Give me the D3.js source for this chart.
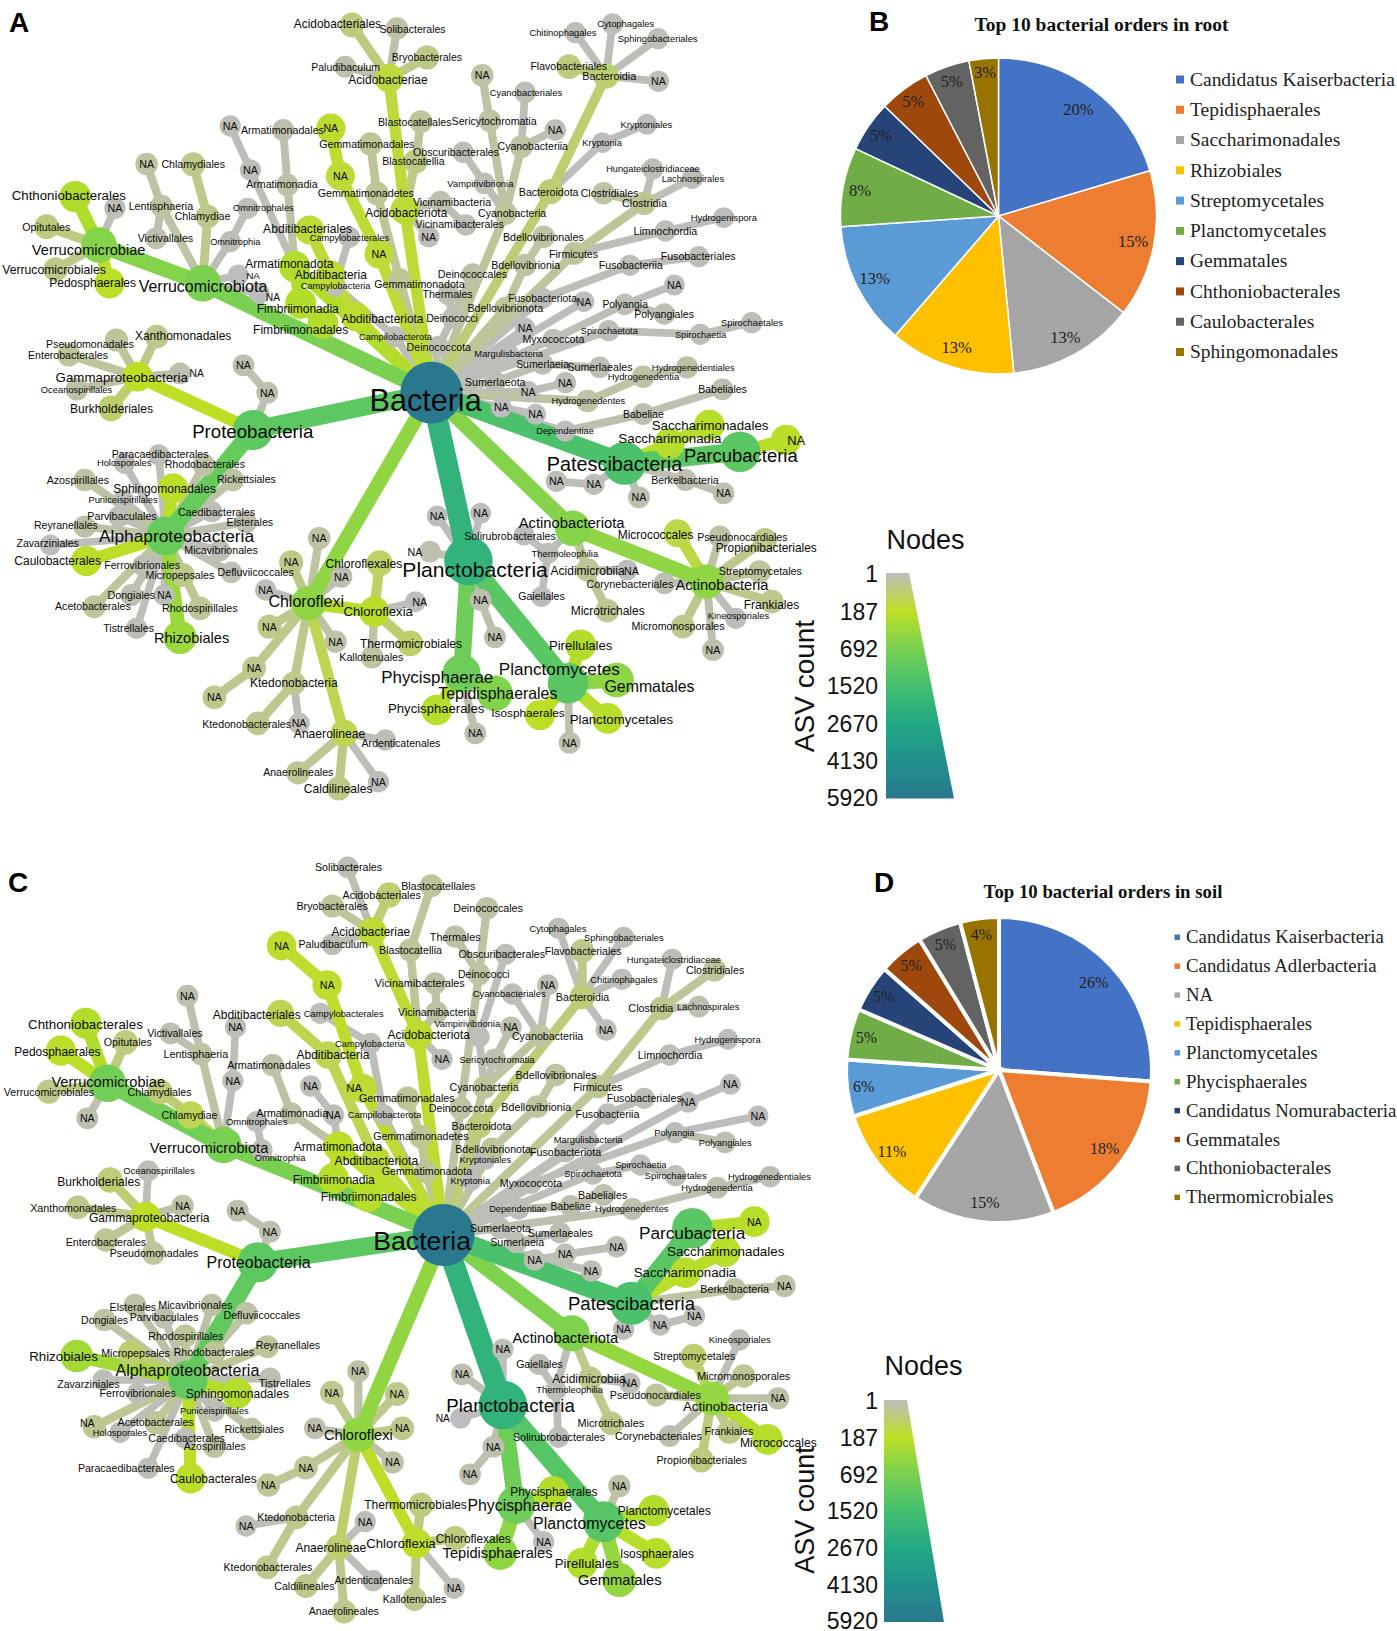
<!DOCTYPE html>
<html><head><meta charset="utf-8">
<script src="https://cdn.jsdelivr.net/npm/d3@7"></script>
<style>html,body{margin:0;padding:0;background:#fff}svg{display:block}</style>
</head><body><div id="chart"></div>
<script>
// ---------- values ----------
const legendTicks = [1,187,692,1520,2670,4130,5920];
const legendColors = ["#bdbdbd","#bddf26","#7ad151","#44bf70","#22a884","#21918c","#2a788e"];

const rootOrders = ["Candidatus Kaiserbacteria","Tepidisphaerales","Saccharimonadales","Rhizobiales","Streptomycetales","Planctomycetales","Gemmatales","Chthoniobacterales","Caulobacterales","Sphingomonadales"];
const rootShares = [20.4,15.1,13,12.9,12.6,8.1,5.2,5.2,4.6,3.0];
const soilOrders = ["Candidatus Kaiserbacteria","Candidatus Adlerbacteria","NA","Tepidisphaerales","Planctomycetales","Phycisphaerales","Candidatus Nomurabacteria","Gemmatales","Chthoniobacterales","Thermomicrobiales"];
const soilShares = [26.2,18,15,10.9,6,5.4,5,4.8,4.6,4.1];
const pieColors = ["#4472c4","#ed7d31","#a5a5a5","#ffc000","#5b9bd5","#70ad47","#264478","#9e480e","#636363","#997300"];

// taxonomy: [depth, taxon, ASV count]
const rootTaxa = [
[0,"Bacteria",5920],
[1,"Verrucomicrobiota",690],[2,"Verrucomicrobiae",600],[3,"Chthoniobacterales",260],[3,"NA",2],[3,"Opitutales",40],[3,"Verrucomicrobiales",30],[3,"Pedosphaerales",200],
[2,"Lentisphaeria",10],[3,"NA",10],[3,"Victivallales",5],[2,"Chlamydiae",25],[3,"Chlamydiales",30],[2,"Omnitrophia",2],[3,"Omnitrophales",2],[2,"NA",1],[2,"NA",1],
[1,"Armatimonadota",250],[2,"Armatimonadia",8],[3,"Armatimonadales",5],[2,"NA",2],[3,"NA",2],[2,"Fimbriimonadia",250],[3,"Fimbriimonadales",240],
[1,"Abditibacteriota",160],[2,"Abditibacteria",150],[3,"Abditibacteriales",150],
[1,"Gemmatimonadota",20],[2,"Gemmatimonadetes",20],[3,"Gemmatimonadales",20],
[1,"NA",150],[2,"NA",150],[3,"NA",170],
[1,"Acidobacteriota",150],[2,"Acidobacteriae",140],[3,"Acidobacteriales",40],[3,"Solibacterales",8],[3,"Bryobacterales",30],[3,"Paludibaculum",5],[2,"Blastocatellia",30],[3,"Blastocatellales",15],[2,"Vicinamibacteria",5],[3,"Vicinamibacterales",3],[2,"NA",2],
[1,"Cyanobacteria",15],[2,"Cyanobacteriia",12],[3,"Cyanobacteriales",3],[3,"NA",3],[2,"Sericytochromatia",10],[3,"NA",10],[2,"Vampirivibrionia",3],[3,"Obscuribacterales",3],
[1,"Bacteroidota",50],[2,"Bacteroidia",55],[3,"Flavobacteriales",40],[3,"Chitinophagales",2],[3,"Cytophagales",2],[3,"Sphingobacteriales",2],[3,"NA",2],[2,"Kryptonia",1],[3,"Kryptoniales",1],
[1,"Firmicutes",15],[2,"Clostridia",20],[3,"Clostridiales",10],[3,"Hungateiclostridiaceae",2],[3,"Lachnospirales",2],[2,"Limnochordia",2],[3,"Hydrogenispora",1],
[1,"Bdellovibrionota",15],[2,"Bdellovibrionia",12],[3,"Bdellovibrionales",10],
[1,"Deinococcota",5],[2,"Deinococci",3],[3,"Deinococcales",8],[3,"Thermales",5],
[1,"Campilobacterota",2],[2,"Campylobacteria",2],[3,"Campylobacterales",2],
[1,"Fusobacteriota",2],[2,"Fusobacteriia",2],[3,"Fusobacteriales",2],[1,"NA",1],
[1,"Myxococcota",2],[2,"Polyangia",3],[3,"Polyangiales",3],[3,"NA",1],[1,"NA",1],
[1,"Spirochaetota",2],[2,"Spirochaetia",2],[3,"Spirochaetales",2],[1,"Margulisbacteria",1],
[1,"Sumerlaeota",3],[2,"Sumerlaeia",3],[3,"Sumerlaeales",3],[1,"NA",2],[2,"NA",2],
[1,"Hydrogenedentes",10],[2,"Hydrogenedentia",10],[3,"Hydrogenedentiales",8],[1,"NA",1],[2,"NA",1],
[1,"Dependentiae",1],[2,"Babeliae",5],[3,"Babeliales",5],
[1,"Proteobacteria",1100],[2,"NA",5],[3,"NA",5],
[2,"Gammaproteobacteria",190],[3,"Xanthomonadales",25],[3,"Pseudomonadales",15],[3,"Enterobacterales",15],[3,"NA",5],[3,"Oceanospirillales",8],[3,"Burkholderiales",60],
[2,"Alphaproteobacteria",950],[3,"Paracaedibacterales",2],[3,"Holosporales",2],[3,"Rhodobacterales",8],[3,"Rickettsiales",10],[3,"Azospirillales",10],[3,"Sphingomonadales",200],[3,"Puniceispirillales",2],[3,"Parvibaculales",3],[3,"Caedibacterales",2],[3,"Elsterales",5],[3,"Reyranellales",8],[3,"Micavibrionales",3],[3,"Zavarziniales",1],[3,"Caulobacterales",200],[3,"Ferrovibrionales",3],[3,"Micropepsales",30],[3,"Defluviicoccales",3],[3,"Dongiales",5],[3,"NA",2],[3,"Acetobacterales",15],[3,"Rhodospirillales",20],[3,"Tistrellales",2],[3,"Rhizobiales",400],
[1,"Patescibacteria",1400],[2,"Saccharimonadia",230],[3,"Saccharimonadales",220],[2,"Parcubacteria",1150],[3,"NA",210],[2,"Berkelbacteria",5],[3,"NA",5],[2,"NA",2],[3,"NA",2],[2,"NA",5],
[1,"Actinobacteriota",600],[2,"Actinobacteria",500],[3,"Micrococcales",120],[3,"Pseudonocardiales",8],[3,"Propionibacteriales",30],[3,"Streptomycetales",15],[3,"Corynebacteriales",4],[3,"Frankiales",25],[3,"Kineosporiales",2],[3,"Micromonosporales",25],[3,"NA",5],
[2,"Thermoleophilia",2],[3,"Solirubrobacterales",1],[3,"Gaiellales",1],[2,"Acidimicrobiia",20],[3,"NA",1],[3,"Microtrichales",20],
[1,"Planctobacteria",2100],[2,"NA",1],[2,"NA",1],[2,"NA",5],[2,"NA",5],[3,"NA",5],
[2,"Phycisphaerae",850],[3,"Tepidisphaerales",620],[3,"Phycisphaerales",220],[3,"NA",5],
[2,"Planctomycetes",1150],[3,"Pirellulales",240],[3,"Gemmatales",500],[3,"Isosphaerales",190],[3,"Planctomycetales",220],[3,"NA",5],
[1,"Chloroflexi",500],[2,"NA",10],[2,"NA",30],[2,"NA",5],[2,"NA",2],[2,"NA",30],[2,"NA",8],[2,"NA",25],[3,"NA",25],
[2,"Ktedonobacteria",25],[3,"Ktedonobacterales",25],[3,"NA",2],
[2,"Anaerolineae",100],[3,"Ardenticatenales",2],[3,"Anaerolineales",20],[3,"Caldilineales",30],[3,"NA",2],
[2,"Chloroflexia",210],[3,"Chloroflexales",70],[3,"NA",1],[3,"Thermomicrobiales",60],[3,"Kallotenuales",10]
];
// network layout of the root tree: [nodeX,nodeY,labelLeft,labelRight,labelY]
const rootPlacement = [
[815,1178,698,910,1200],
[383,850,262,505,860],[187,735,60,275,748],[142,590,22,238,587],[217,625],[88,680,42,133],[105,808,4,200],[207,850,93,257,847],
[305,618,243,365],[277,492],[295,715,260,365],[392,650,330,435],[365,493,305,425],[435,725,397,492],[468,625,440,555,622],[450,825,465,491],[490,880,502,529,892],
[557,800,463,630,790],[543,555,465,600,553],[535,390,455,612],[473,510],[435,378],[568,910,485,640,925],[610,970,478,658,990],
[672,950,645,800,957],[625,825,557,693,823],[585,690,497,665,686],
[755,840,707,878,853],[712,580,600,782],[700,432,603,783],
[716,762],[643,528],[625,385],
[765,630,690,845,638],[735,235,658,808,238],[665,75,555,720,71],[750,85,717,842,88],[807,172,740,873],[652,200,588,718,201],[785,485,722,840],[795,365,714,853,366],[832,605,780,928,606],[880,675,785,952,674],[810,710],
[955,640,903,1032,641],[985,440,940,1073,438],[992,277,925,1062],[1049,390],[925,362,853,1014],[911,226],[915,550,845,970,551],[875,457,780,943],
[1040,575,980,1093,576],[1145,228,1100,1202,229],[1075,200,1002,1147],[1087,98,1000,1127],[1157,72,1128,1236],[1243,116,1167,1318],[1244,244],[1138,428,1100,1175],[1222,373,1172,1270],
[1085,760,1037,1130,761],[1217,610,1175,1260],[1140,580,1097,1206],[1233,507,1145,1322],[1308,535,1250,1368],[1257,693,1197,1317],[1367,653,1305,1430],
[955,925,883,1026],[992,795,928,1058],[1027,710,950,1103,711],
[828,1040,768,890],[855,955,805,903],[893,823,827,958],[847,883,798,893],
[747,1010,678,816],[633,857,568,700],[660,712,585,735],
[1025,895,960,1090],[1190,796,1131,1252],[1320,770,1248,1390],[1103,905],
[1045,1018,987,1104],[1180,913,1138,1224],[1255,942,1198,1311],[1274,855],[992,985],
[1150,992,1097,1205],[1323,1003,1275,1372],[1420,968,1362,1479],[960,1060,896,1026],
[935,1145,878,993],[1025,1092,975,1075],[1133,1102,1072,1195],[998,1175],[1068,1148],
[1110,1203,1042,1181],[1215,1130,1148,1283],[1298,1102,1231,1388],[947,1222],[1012,1243],
[1068,1293,1013,1122],[1215,1242,1177,1254],[1365,1168,1319,1411],
[478,1290,363,592,1294],[505,1178],[460,1096],
[260,1130,105,355,1132],[296,1010,255,437,1008],[220,1020,87,253,1034],[130,1065,53,204],[340,1120,358,385],[145,1168,77,212],[210,1225,132,289,1226],
[313,1608,187,480],[300,1365,211,394,1362],[235,1390,183,286,1388],[385,1395,311,463,1392],[440,1440,410,521,1438],[160,1440,88,206,1441],[327,1465,214,408,1466],[233,1500,167,298,1499],[225,1550,165,296,1549],[400,1535,336,482],[465,1567,428,516],[160,1580,64,185,1575],[415,1652,348,487,1651],[95,1635,31,149,1631],[163,1683,27,191],[270,1697,197,340],[345,1725,275,405],[437,1717,411,555,1716],[248,1785,203,293],[310,1785,297,324],[178,1820,104,247],[378,1825,306,449,1824],[258,1885,195,291,1884],[340,1912,291,433,1914],
[1180,1390,1033,1289,1393],[1265,1330,1168,1363,1315],[1340,1275,1231,1452],[1398,1355,1292,1507,1365],[1485,1320,1487,1521],[1295,1440,1230,1358,1441],[1367,1480],[1122,1453],[1051,1444],[1207,1492],
[1082,1585,980,1180,1567],[1335,1745,1276,1452,1753],[1280,1600,1167,1310,1603],[1360,1610,1317,1488,1612],[1445,1620,1352,1543,1644],[1435,1715,1358,1515,1714],[1255,1750,1108,1272,1753],[1458,1805,1405,1510,1815],[1390,1855,1337,1453,1848],[1290,1880,1193,1369,1878],[1347,1950],
[1035,1660,1004,1130,1661],[990,1605,877,1050,1608],[1023,1790,979,1067],[1110,1710,1040,1180,1713],[1185,1710,1179,1207,1713],[1147,1832,1078,1218],
[885,1683,760,1035,1708],[908,1540],[826,1548],[812,1655,770,798],[908,1800],[935,1912],
[872,2020,720,932,2032],[935,2080,828,1053],[825,2130,733,915,2126],[898,2200],
[1073,2050,942,1171,2006],[1097,1935,1037,1157,1936],[1165,2040,1142,1312,2058],[1020,2145,928,1067,2138],[1148,2155,1076,1272,2158],[1076,2228],
[583,1810,507,650,1805],[603,1615],[550,1687],[645,1730],[502,1770],[509,1880],[634,1925],[480,2005],[405,2092],
[555,2050,472,638,2048],[487,2170,382,550,2172],[565,2170],
[650,2200,555,690],[728,2220,683,832,2230],[563,2318,497,630],[640,2365,574,704],[715,2345],
[707,1835,649,780],[717,1690,615,760],[785,1805,779,807],[775,1930,680,873],[703,1972,641,762]
];

const soilTaxa = [
[0,"Bacteria",5920],
[1,"Verrucomicrobiota",690],[2,"Verrucomicrobiae",800],[3,"Chthoniobacterales",250],[3,"Pedosphaerales",200],[3,"Opitutales",40],[3,"Verrucomicrobiales",30],[3,"NA",5],
[2,"Chlamydiae",100],[3,"Chlamydiales",50],[2,"Lentisphaeria",10],[3,"NA",5],[3,"Victivallales",5],[2,"NA",2],[3,"NA",2],[2,"Omnitrophia",2],[3,"Omnitrophales",2],
[1,"Armatimonadota",200],[2,"Armatimonadia",8],[3,"Armatimonadales",8],[2,"NA",2],[3,"NA",2],[2,"Fimbriimonadia",220],[3,"Fimbriimonadales",220],
[1,"Abditibacteriota",150],[2,"Abditibacteria",100],[3,"Abditibacteriales",100],
[1,"Campilobacterota",2],[2,"Campylobacteria",2],[3,"Campylobacterales",2],
[1,"NA",150],[2,"NA",170],[3,"NA",170],
[1,"Gemmatimonadota",20],[2,"Gemmatimonadetes",20],[3,"Gemmatimonadales",20],
[1,"Acidobacteriota",160],[2,"Acidobacteriae",150],[3,"Acidobacteriales",50],[3,"Bryobacterales",15],[3,"Solibacterales",3],[3,"Paludibaculum",3],[2,"Blastocatellia",15],[3,"Blastocatellales",15],[2,"Vicinamibacteria",8],[3,"Vicinamibacterales",8],[2,"NA",2],
[1,"Deinococcota",10],[2,"Deinococci",10],[3,"Deinococcales",10],[3,"Thermales",8],
[1,"Cyanobacteria",15],[2,"Cyanobacteriia",12],[3,"Cyanobacteriales",2],[3,"NA",3],[2,"Vampirivibrionia",2],[3,"Obscuribacterales",2],[2,"Sericytochromatia",5],[3,"NA",5],
[1,"Bacteroidota",45],[2,"Bacteroidia",45],[3,"Flavobacteriales",25],[3,"Cytophagales",2],[3,"Sphingobacteriales",2],[3,"Chitinophagales",2],[3,"NA",2],[2,"Kryptonia",1],[3,"Kryptoniales",1],
[1,"Bdellovibrionota",15],[2,"Bdellovibrionia",12],[3,"Bdellovibrionales",12],
[1,"Firmicutes",18],[2,"Clostridia",25],[3,"Clostridiales",15],[3,"Hungateiclostridiaceae",2],[3,"Lachnospirales",4],[2,"Limnochordia",2],[3,"Hydrogenispora",1],
[1,"Fusobacteriota",2],[2,"Fusobacteriia",2],[3,"Fusobacteriales",2],[1,"NA",1],[2,"NA",1],
[1,"Myxococcota",2],[2,"Polyangia",2],[3,"Polyangiales",5],[3,"NA",1],[1,"Margulisbacteria",1],
[1,"Spirochaetota",2],[2,"Spirochaetia",2],[3,"Spirochaetales",2],
[1,"Hydrogenedentes",5],[2,"Hydrogenedentia",5],[3,"Hydrogenedentiales",3],
[1,"Dependentiae",2],[2,"Babeliae",5],[3,"Babeliales",5],
[1,"Sumerlaeota",3],[2,"Sumerlaeia",3],[3,"Sumerlaeales",3],[1,"NA",3],[2,"NA",3],[3,"NA",3],[1,"NA",3],
[1,"Proteobacteria",1100],[2,"NA",5],[3,"NA",5],
[2,"Gammaproteobacteria",190],[3,"Burkholderiales",50],[3,"Oceanospirillales",2],[3,"Xanthomonadales",25],[3,"NA",8],[3,"Enterobacterales",20],[3,"Pseudomonadales",15],
[2,"Alphaproteobacteria",1000],[3,"Elsterales",8],[3,"Micavibrionales",8],[3,"Defluviicoccales",10],[3,"Dongiales",10],[3,"Parvibaculales",5],[3,"Rhodospirillales",15],[3,"Reyranellales",15],[3,"Rhodobacterales",15],[3,"Micropepsales",60],[3,"Rhizobiales",350],[3,"Tistrellales",3],[3,"Zavarziniales",2],[3,"Ferrovibrionales",3],[3,"Sphingomonadales",230],[3,"Puniceispirillales",2],[3,"Rickettsiales",10],[3,"NA",20],[3,"Acetobacterales",20],[3,"Holosporales",2],[3,"Caedibacterales",2],[3,"Azospirillales",10],[3,"Paracaedibacterales",2],[3,"Caulobacterales",200],
[1,"Patescibacteria",1400],[2,"Parcubacteria",1150],[3,"NA",220],[2,"Saccharimonadia",210],[3,"Saccharimonadales",220],[2,"Berkelbacteria",10],[3,"NA",8],[2,"NA",2],[3,"NA",2],[2,"NA",2],
[1,"Actinobacteriota",650],[2,"Actinobacteria",450],[3,"Kineosporiales",2],[3,"Streptomycetales",60],[3,"Micromonosporales",20],[3,"Pseudonocardiales",15],[3,"NA",8],[3,"Corynebacteriales",5],[3,"Frankiales",30],[3,"Micrococcales",230],[3,"Propionibacteriales",40],
[2,"Thermoleophilia",2],[3,"Gaiellales",2],[3,"Solirubrobacterales",2],[2,"Acidimicrobiia",25],[3,"NA",2],[3,"Microtrichales",25],
[1,"Planctobacteria",2100],[2,"NA",2],[2,"NA",5],[2,"NA",1],[2,"NA",5],[3,"NA",5],
[2,"Phycisphaerae",850],[3,"Phycisphaerales",250],[3,"Tepidisphaerales",500],[3,"NA",2],
[2,"Planctomycetes",1200],[3,"NA",8],[3,"Planctomycetales",250],[3,"Isosphaerales",220],[3,"Pirellulales",250],[3,"Gemmatales",450],
[1,"Chloroflexi",480],[2,"NA",8],[2,"NA",25],[2,"NA",25],[2,"NA",5],[2,"NA",25],[2,"NA",8],[2,"NA",20],[3,"NA",20],
[2,"Ktedonobacteria",25],[3,"NA",2],[3,"Ktedonobacterales",25],
[2,"Anaerolineae",60],[3,"NA",2],[3,"Ardenticatenales",2],[3,"Caldilineales",25],[3,"Anaerolineales",25],
[2,"Chloroflexia",180],[3,"Thermomicrobiales",40],[3,"Chloroflexales",40],[3,"NA",2],[3,"Kallotenuales",25]
];
const soilPlacement = [
[838,1155,705,890,1170],
[422,885,283,507,892],[203,700,97,312,694],[162,520,53,270,522],[115,602,27,190,604],[237,577,196,287],[92,725,7,178,728],[165,805],
[360,795,305,411],[302,725,241,362,726],[380,612,309,431],[354,437],[322,550,278,383],[440,692],[445,532],[495,900,481,577,922],[485,815,427,543],
[640,890,555,722],[550,790,484,620],[515,645,429,587],[630,795],[587,708],[630,985,553,708,988],[695,1040,606,787],
[710,930,632,790,933],[620,615,560,698],[530,490,402,568,494],
[725,795,657,796],[700,580,633,765],[605,490,574,725],
[685,715,654,684,715],[618,405],[532,287],
[805,965,721,892],[795,860,705,885],[770,745,678,859],
[790,555,732,888],[703,245,626,775,246],[735,135,647,795],[628,168,560,695],[657,52,595,722],[628,283,564,695],[775,300,716,835],[815,107,758,898],[825,487,752,898],[822,400,708,878],[835,628],
[870,775,810,932],[905,373,865,963],[920,175,856,988],[860,260,812,908],
[915,712,849,980],[1020,558,967,1102],[968,432,893,1031],[1035,405],[905,560,820,945,522],[955,313,866,1030],[935,628,868,1010],[965,532],
[905,828,853,966],[1100,440,1050,1151],[1100,303,1029,1174],[1055,235,1000,1108],[1178,262,1103,1254],[1175,388,1115,1242],[1145,540],[890,992,851,926],[917,928,868,966],
[930,897,860,1003],[1015,770,947,1079],[1050,675,974,1127],
[1130,710,1083,1176],[1250,475,1187,1272],[1350,360,1296,1406],[1270,328,1184,1362],[1320,470,1279,1397],[1265,615,1205,1327],[1375,568,1312,1437],
[1068,905,1001,1136],[1148,792,1087,1208],[1217,745,1146,1288],[1300,757],[1380,703],
[1003,1000,944,1062],[1275,848,1236,1312],[1370,877,1320,1420],[1432,798],[1110,870,1046,1176],
[1120,972,1066,1175],[1210,945,1162,1259],[1276,977,1218,1335],
[1195,1077,1124,1263],[1355,1013,1287,1422],[1455,980,1375,1532],
[980,1077,924,1033],[1078,1068,1040,1116],[1140,1035,1092,1185],
[945,1135,888,1003],[975,1177,926,1028],[1058,1148,997,1120],[1010,1230],[1068,1213],[1165,1190],[1117,1263],
[487,1237,390,587,1238],[510,1145],[449,1082],
[275,1100,168,396,1103],[208,990,108,265,995],[280,963,233,368],[147,1072,57,220,1073],[345,1068],[200,1170,124,276,1177],[290,1210,207,375],
[355,1590,218,490,1560],[255,1365,207,295,1373],[400,1365,299,439],[465,1390,422,567,1394],[197,1410,153,242],[310,1403,245,375],[350,1458,280,422],[505,1490,483,605,1486],[405,1508,328,480],[247,1510,191,321],[145,1518,55,185],[510,1585,489,587,1600],[195,1590,108,226,1602],[260,1630,188,332],[448,1630,351,546],[405,1683,340,470],[475,1737,424,537],[178,1730,151,179,1718],[295,1718,222,366],[227,1747,175,278],[350,1765,280,425],[405,1790,347,464],[280,1855,147,330],[360,1885,321,485],
[1193,1360,1073,1313],[1308,1135,1207,1408,1147],[1425,1115],[1295,1268,1197,1391],[1370,1205,1260,1482],[1388,1318,1323,1453],[1482,1308],[1247,1425],[1312,1398],[1178,1438],
[1080,1450,968,1168,1462],[1345,1645,1290,1451,1668],[1397,1470,1339,1456],[1310,1520,1234,1389],[1405,1578,1317,1493],[1240,1635,1152,1324],[1470,1645],[1265,1758,1162,1326],[1378,1745,1331,1423],[1450,1768,1398,1543,1778],[1325,1830,1240,1411],
[1050,1620,1013,1139],[1018,1543,975,1063],[1055,1762,969,1143],[1115,1585,1043,1182],[1190,1600],[1155,1720,1091,1217],
[950,1665,843,1086],[950,1498],[873,1573],[870,1705,823,850],[932,1790],[888,1873],
[975,1965,883,1081],[1045,1925,964,1129],[945,2108,836,1044],[1027,2075],
[1140,2015,1007,1220,2020],[1170,1908],[1235,1982,1167,1343],[1240,2110,1171,1311],[1100,2140,1048,1169],[1170,2190,1092,1250],
[677,1755,612,742],[677,1564],[627,1628],[750,1632],[595,1735],[760,1735],[742,1837],[578,1853],[507,1905],
[560,2002,486,633],[465,2028],[505,2152,422,590],
[640,2092,558,692],[690,2015],[705,2192,632,781],[578,2208,518,632],[650,2285,583,716],
[787,2080,692,823],[795,1965,688,882],[860,2065,823,965],[858,2215],[783,2247,723,843]
];

// ---------- scales ----------
const W = 1397, H = 1631;
const svg = d3.select("#chart").append("svg").attr("width",W).attr("height",H).attr("viewBox",[0,0,W,H]);
const SANS = "'Liberation Sans',Arial,sans-serif", SERIF = "'Liberation Serif','Times New Roman',serif";
const color = d3.scaleSqrt().domain(legendTicks).range(legendColors);
const radius = d3.scaleSqrt().domain([1,187,1100,2000,5920]).range([10.5,15,20,24,31]);
const edgeWidth = d3.scaleSqrt().domain([1,187,1100,2000,5920]).range([7.5,12,18,21,30]);
const layoutX = d3.scaleLinear().domain([0,1568]).range([0,830]);

function fitText(sel, target){
  sel.attr("font-size",100);
  const len = sel.node().getComputedTextLength();
  const fs = 100*target/len;
  sel.attr("font-size",fs);
  return fs;
}

function drawTree(taxa, placement, originY){
  const layoutY = d3.scaleLinear().domain([0,3]).range([originY,originY+1]);
  const stack = [];
  const nodes = taxa.map((t,i)=>{
    const p = placement[i];
    const n = {depth:t[0],name:t[1],asv:t[2],x:layoutX(p[0]),y:layoutY(p[1]),
      labelX: p[2]!==undefined ? layoutX((p[2]+p[3])/2) : layoutX(p[0]),
      labelW: p[2]!==undefined ? layoutX(p[3]-p[2]) : layoutX(28),
      labelY: layoutY(p[4]!==undefined ? p[4] : p[1])};
    n.parent = t[0]>0 ? stack[t[0]-1] : null;
    stack[t[0]] = n;
    return n;
  });
  const g = svg.append("g");
  g.append("g").selectAll("line").data(nodes.filter(d=>d.parent).sort((a,b)=>a.asv-b.asv)).join("line")
    .attr("x1",d=>d.parent.x).attr("y1",d=>d.parent.y).attr("x2",d=>d.x).attr("y2",d=>d.y)
    .attr("stroke",d=>color(d.asv)).attr("stroke-width",d=>edgeWidth(d.asv));
  g.append("g").selectAll("circle").data(nodes.slice().sort((a,b)=>a.asv-b.asv)).join("circle")
    .attr("cx",d=>d.x).attr("cy",d=>d.y).attr("r",d=>radius(d.asv)).attr("fill",d=>color(d.asv));
  g.append("g").attr("font-family",SANS).attr("fill","#0a0a0a").attr("text-anchor","middle")
    .selectAll("text").data(nodes).join("text")
    .attr("x",d=>d.labelX).attr("y",d=>d.labelY).attr("dy","0.36em").text(d=>d.name)
    .each(function(d){fitText(d3.select(this),d.labelW);});
}
drawTree(rootTaxa,rootPlacement,0);
drawTree(soilTaxa,soilPlacement,850);

// ---------- pies ----------
function drawPie(orders,shares,cfg){
  const g = svg.append("g").attr("transform",`translate(${cfg.cx},${cfg.cy})`);
  const arcs = d3.pie().sort(null).value(d=>d)(shares);
  const arc = d3.arc().innerRadius(0).outerRadius(cfg.r);
  const labelR = d3.scaleLinear().domain(cfg.labelShares).range(cfg.labelRadii);
  const labelPos = d=>{const R=labelR(d.data);return d3.arc().innerRadius(R).outerRadius(R).centroid(d);};
  g.selectAll("path").data(arcs).join("path").attr("d",arc)
    .attr("fill",(d,i)=>pieColors[i]).attr("stroke","#fff").attr("stroke-width",cfg.gap);
  g.selectAll("text").data(arcs).join("text")
    .attr("transform",d=>`translate(${labelPos(d)})`)
    .attr("text-anchor","middle").attr("dy","0.35em").attr("font-family",SERIF)
    .attr("font-size",cfg.pctSize).attr("fill","#222")
    .text(d=>`${Math.round(d.data)}%`);
  const title = svg.append("text").attr("x",cfg.titleX).attr("y",cfg.titleY).attr("text-anchor","middle")
    .attr("font-family",SERIF).attr("font-weight","bold").attr("fill","#111").text(cfg.title);
  fitText(title,cfg.titleW);
  const rowY = d3.scaleLinear().domain([0,9]).range([cfg.legY0,cfg.legY1]);
  const probe = svg.append("text").attr("font-family",SERIF).text(rootOrders[0]);
  const legSize = fitText(probe,cfg.legW); probe.remove();
  const leg = svg.append("g").selectAll("g").data(orders).join("g").attr("transform",(d,i)=>`translate(0,${rowY(i)})`);
  leg.append("rect").attr("x",cfg.legX).attr("y",-cfg.sw/2).attr("width",cfg.sw).attr("height",cfg.sw).attr("fill",(d,i)=>pieColors[i]);
  leg.append("text").attr("x",cfg.legTextX).attr("dy","0.32em").attr("font-family",SERIF).attr("font-size",legSize).attr("fill","#222").text(d=>d);
}
drawPie(rootOrders,rootShares,{cx:998.5,cy:216,r:158,labelShares:[3,20],labelRadii:[144,134],gap:1.5,pctSize:16.5,title:"Top 10 bacterial orders in root",titleX:1101.5,titleY:31,titleW:254,legX:1176,sw:8,legTextX:1190,legY0:79.5,legY1:352,legW:205});
drawPie(soilOrders,soilShares,{cx:999,cy:1070,r:153,labelShares:[4,26],labelRadii:[137,129],gap:4,pctSize:16,title:"Top 10 bacterial orders in soil",titleX:1103,titleY:897.5,titleW:239,legX:1174.5,sw:5.5,legTextX:1186,legY0:937.3,legY1:1197.3,legW:198});

// ---------- size / colour legends ----------
const defs = svg.append("defs");
function drawLegend(id,cfg){
  const grad = defs.append("linearGradient").attr("id",id).attr("x1",0).attr("x2",0).attr("y1",0).attr("y2",1);
  legendTicks.forEach((t,i)=>grad.append("stop").attr("offset",i/(legendTicks.length-1)).attr("stop-color",legendColors[i]));
  const pos = d3.scalePoint().domain(legendTicks).range([cfg.barTop,cfg.barBottom]);
  const labelPos = d3.scalePoint().domain(legendTicks).range([cfg.labTop,cfg.labBottom]);
  const wid = d3.scaleLinear().domain([cfg.barTop,cfg.barBottom]).range([cfg.wTop,cfg.wBottom]);
  const area = d3.area().x0(cfg.left).x1(d=>cfg.left+wid(pos(d))).y(d=>pos(d));
  svg.append("path").attr("d",area(legendTicks)).attr("fill",`url(#${id})`);
  const g = svg.append("g").attr("font-family",SANS).attr("fill","#111");
  g.selectAll("text").data(legendTicks).join("text").attr("x",878).attr("y",d=>labelPos(d)).attr("dy","0.36em")
    .attr("text-anchor","end").attr("font-size",23).text(d=>d);
  g.append("text").attr("x",cfg.left+0.5).attr("y",cfg.titleY).attr("font-size",27).text("Nodes");
  g.append("text").attr("transform",`translate(814,${cfg.asvCy}) rotate(-90)`).attr("text-anchor","middle").attr("font-size",cfg.asvSize).text("ASV count");
}
drawLegend("gradA",{left:886,barTop:573,barBottom:798.5,wTop:23,wBottom:68,labTop:574,labBottom:798,titleY:549,asvCy:686,asvSize:28});
drawLegend("gradC",{left:884,barTop:1400,barBottom:1622,wTop:23,wBottom:60,labTop:1401,labBottom:1621,titleY:1375,asvCy:1510,asvSize:27});

// ---------- panel letters ----------
const panelLetters = [["A",9,32],["B",869,31],["C",8,892],["D",874,892]];
svg.append("g").attr("font-family",SANS).attr("font-weight","bold").attr("font-size",28).attr("fill","#000")
  .selectAll("text").data(panelLetters).join("text").attr("x",d=>d[1]).attr("y",d=>d[2]).text(d=>d[0]);
</script></body></html>
